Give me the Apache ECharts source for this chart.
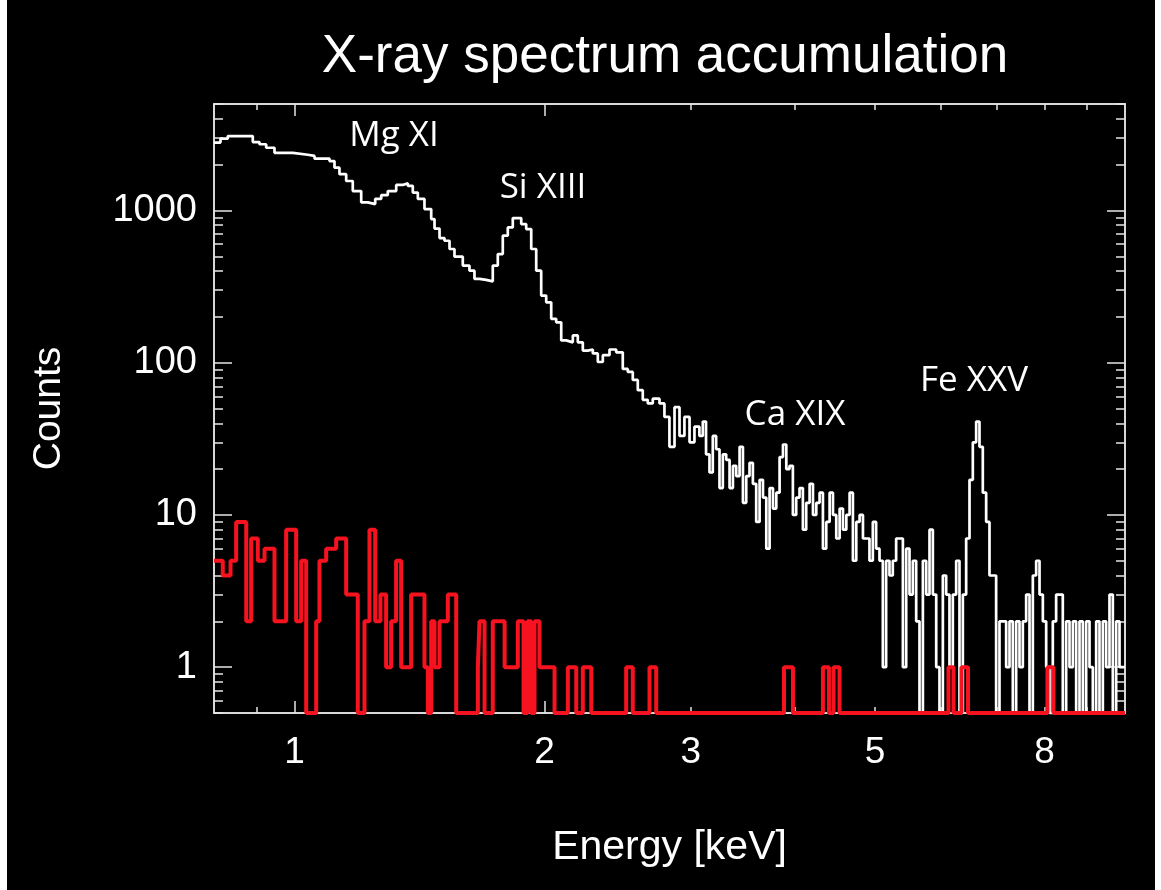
<!DOCTYPE html>
<html>
<head>
<meta charset="utf-8">
<title>X-ray spectrum accumulation</title>
<script src="https://cdn.jsdelivr.net/npm/echarts@6/dist/echarts.min.js"></script>
<style>
  html, body { margin: 0; padding: 0; background: #ffffff; }
  #chart { width: 1161px; height: 890px; }
</style>
</head>
<body>
<div id="chart"></div>
<script>
// white spectrum: energy (keV) where each step starts, last edge closes the last bin
var whiteEdges = [
  0.800, 0.8145, 0.8312, 0.8908, 0.9075, 0.9245, 0.9461, 0.9953, 1.0375, 1.0570,
  1.1019, 1.1173, 1.1328, 1.1541, 1.1754, 1.2032, 1.2254, 1.2508, 1.2718, 1.2952,
  1.3258, 1.3503, 1.3691, 1.3882, 1.4077, 1.4339, 1.4609, 1.4744, 1.4950, 1.5157,
  1.5370, 1.5583, 1.5946, 1.6244, 1.6471, 1.6701, 1.7013, 1.7329, 1.7571, 1.7816,
  1.8065, 1.8317, 1.8750, 1.9011, 1.9277, 1.9546, 1.9818, 2.0095, 2.0376, 2.0660,
  2.0949, 2.1241, 2.1634, 2.1935, 2.2242, 2.2552, 2.2867, 2.3186, 2.3510, 2.3950,
  2.4399, 2.4848, 2.5196, 2.5547, 2.5903, 2.6265, 2.6631, 2.7003,
  2.751, 2.789, 2.828, 2.868, 2.908, 2.948, 2.990, 3.031,
  3.073, 3.102, 3.130, 3.160, 3.189, 3.219, 3.249, 3.279, 3.310, 3.341,
  3.372, 3.403, 3.435, 3.467, 3.499, 3.531, 3.564, 3.597, 3.631, 3.665,
  3.699, 3.733, 3.768, 3.803, 3.838, 3.874, 3.910, 3.945, 3.982, 4.019,
  4.056, 4.094, 4.132, 4.171, 4.210, 4.249, 4.288, 4.328, 4.368, 4.409,
  4.450, 4.491, 4.533, 4.575, 4.618, 4.660, 4.703, 4.747, 4.791, 4.836,
  4.880, 4.924, 4.970, 5.016, 5.063, 5.110, 5.157, 5.205, 5.253, 5.302,
  5.352, 5.402, 5.452, 5.502, 5.553, 5.605, 5.657, 5.710, 5.763, 5.816,
  5.870, 5.925, 5.979, 6.035, 6.091, 6.147, 6.204, 6.262, 6.320, 6.379,
  6.438, 6.498, 6.558, 6.619, 6.680, 6.742, 6.805, 6.868, 6.932, 6.996,
  7.061, 7.127, 7.193, 7.260, 7.327, 7.395, 7.464, 7.533, 7.603, 7.674,
  7.745, 7.817, 7.890, 7.963, 8.037, 8.111, 8.186, 8.262, 8.339, 8.416,
  8.495, 8.574, 8.654, 8.734, 8.815, 8.897, 8.979, 9.063, 9.147, 9.232,
  9.317, 9.404, 9.491, 9.579, 9.668, 9.758, 9.849, 10.0
];
var whiteCounts = [
  2790, 2960, 3080, 2810, 2720, 2580, 2390, 2320, 2280, 2190,
  2110, 1910, 1730, 1560, 1340, 1130, 1100, 1190, 1260, 1340,
  1470, 1510, 1450, 1310, 1190, 1020, 877, 760, 658, 632,
  558, 497, 434, 402, 355, 350, 342, 434, 517, 682,
  773, 891, 813, 754, 558, 402, 276, 249, 194, 184,
  140, 136, 151, 136, 120, 122, 115, 101, 112, 122,
  117, 91, 87, 77, 66, 57, 54, 58,
  54, 44, 28, 51, 33, 44, 30, 38,
  33, 41, 25, 19, 33, 27, 15, 25, 23, 15,
  21, 18, 28, 12, 18, 22, 16, 9, 17, 13,
  6, 15, 11, 14, 24, 29, 20, 21, 10, 13,
  15, 8, 12, 16, 10, 12, 14, 6, 9, 14,
  10, 7, 11, 8, 10, 14, 5, 9, 10, 7,
  7, 5, 9, 6, 5, 1, 5, 4, 5, 7,
  7, 1, 6, 3, 5, 2, 0, 5, 3, 8,
  3, 1, 0, 4, 3, 1, 3, 5, 0, 3,
  7, 17, 30, 41, 28, 14, 9, 4, 4, 0,
  2, 2, 1, 2, 0, 2, 1, 2, 3, 0,
  4, 5, 3, 2, 1, 0, 2, 3, 3, 0,
  2, 1, 2, 0, 2, 0, 2, 1, 0, 2,
  0, 2, 1, 3, 0, 2, 1
];

// red spectrum
var redEdges = [
  0.800, 0.8197, 0.8375, 0.8507, 0.8748, 0.8868, 0.9033, 0.9203, 0.9461, 0.9772,
  1.0047, 1.0188, 1.0330, 1.0620, 1.0717, 1.0918, 1.1226, 1.1541, 1.1918, 1.2142,
  1.2311, 1.2508, 1.2691, 1.2893, 1.3073, 1.3255, 1.3441, 1.3819, 1.4339, 1.4473,
  1.4609, 1.4744, 1.4950, 1.5157, 1.5298, 1.5658, 1.6627, 1.6701, 1.6938, 1.7329,
  1.7907, 1.8574, 1.8872, 1.9078, 1.9277, 1.9454, 1.9724, 2.0566, 2.1338, 2.1841,
  2.2242, 2.2769, 2.5083, 2.5548, 2.6759, 2.7261, 3.885, 3.983, 4.328, 4.401,
  4.457, 4.532, 6.130, 6.216, 6.355, 6.471, 8.066, 8.201, 10.0
];
var redCounts = [
  5, 4, 5, 9, 2, 7, 5, 6, 2, 8,
  2, 5, 0, 2, 5, 6, 7, 3, 0, 2,
  8, 2, 3, 1, 2, 5, 1, 3, 1, 0,
  2, 1, 2, 2, 3, 0, 1, 2, 0, 2,
  1, 2, 0, 2, 0, 2, 1, 0, 1, 0,
  1, 0, 1, 0, 1, 0, 1, 0, 1, 0,
  1, 0, 1, 0, 1, 0, 1, 0
];

var xLabelValues = [1, 2, 3, 5, 8];
var xMajorTicks = [1, 2];
var xMinorTicks = [0.9, 3, 4, 5, 6, 7, 8, 9];
var yLabelValues = [1, 10, 100, 1000];
var yMinorTicks = [0.5, 0.6, 0.7, 0.8, 0.9, 2, 3, 4, 5, 6, 7, 8, 9,
  20, 30, 40, 50, 60, 70, 80, 90, 200, 300, 400, 500, 600, 700, 800, 900,
  2000, 3000, 4000, 5000];

var X_MIN = 0.8, X_MAX = 10, Y_MIN = 0.5, Y_MAX = 5000;
var axisColor = '#e6e6e6';
var font = 'Liberation Sans, Arial, Helvetica, sans-serif';

// histogram -> points for a step line; empty bins sit on the floor of the plot
function toSteps(edges, counts) {
  var pts = counts.map(function (c, i) {
    return [edges[i], c > 0 ? c : Y_MIN];
  });
  var last = counts[counts.length - 1];
  pts.push([edges[edges.length - 1], last > 0 ? last : Y_MIN]);
  return pts;
}

function fmt(v) {
  return String(Math.round(v * 1000) / 1000);
}

function xAxisDef(pos, ticks, len, withLabel) {
  var ax = {
    type: 'log', logBase: 10, min: X_MIN, max: X_MAX, position: pos,
    axisLine: { show: true, onZero: false, lineStyle: { color: axisColor, width: 1.5 } },
    axisTick: { show: true, inside: true, length: len, customValues: ticks,
      lineStyle: { color: axisColor, width: 1.5 } },
    axisLabel: { show: false },
    splitLine: { show: false }
  };
  if (withLabel) {
    ax.axisLabel = { show: true, customValues: xLabelValues, color: '#ffffff',
      fontFamily: font, fontSize: 37, margin: 21, formatter: fmt };
    ax.name = 'Energy [keV]';
    ax.nameLocation = 'middle';
    ax.nameGap = 114;
    ax.nameTextStyle = { color: '#ffffff', fontFamily: font, fontSize: 41 };
  }
  return ax;
}

function yAxisDef(pos, ticks, len, withLabel) {
  var ax = {
    type: 'log', logBase: 10, min: Y_MIN, max: Y_MAX, position: pos,
    axisLine: { show: true, onZero: false, lineStyle: { color: axisColor, width: 1.5 } },
    axisTick: { show: true, inside: true, length: len, customValues: ticks,
      lineStyle: { color: axisColor, width: 1.5 } },
    axisLabel: { show: false },
    splitLine: { show: false }
  };
  if (withLabel) {
    ax.axisLabel = { show: true, customValues: yLabelValues, color: '#ffffff',
      fontFamily: font, fontSize: 38, margin: 17, formatter: fmt };
    ax.name = 'Counts';
    ax.nameLocation = 'middle';
    ax.nameGap = 145;
    ax.nameTextStyle = { color: '#ffffff', fontFamily: font, fontSize: 39 };
  }
  return ax;
}

var lineFont = '35px "Open Sans", "Noto Sans", sans-serif';
function lineLabel(text, x, y) {
  return {
    type: 'text', x: x, y: y, z: 10,
    style: { text: text, fill: '#ffffff', font: lineFont,
      textAlign: 'center', textVerticalAlign: 'middle' }
  };
}

var chart = echarts.init(document.getElementById('chart'), null, { renderer: 'canvas' });
var option = {
  animation: false,
  backgroundColor: '#000000',
  textStyle: { fontFamily: font },
  title: {
    text: 'X-ray spectrum accumulation',
    left: 665, top: 31, padding: 0, textAlign: 'center',
    textStyle: { color: '#ffffff', fontFamily: font, fontSize: 53, fontWeight: 'normal' }
  },
  grid: { left: 214, top: 104, width: 911, height: 609, containLabel: false },
  xAxis: [
    xAxisDef('bottom', xMajorTicks, 12, true),
    xAxisDef('bottom', xMinorTicks, 6, false),
    xAxisDef('top', xMajorTicks, 12, false),
    xAxisDef('top', xMinorTicks, 6, false)
  ],
  yAxis: [
    yAxisDef('left', yLabelValues, 18, true),
    yAxisDef('left', yMinorTicks, 9, false),
    yAxisDef('right', yLabelValues, 18, false),
    yAxisDef('right', yMinorTicks, 9, false)
  ],
  graphic: [
    { type: 'rect', shape: { x: 0, y: 0, width: 7, height: 890 }, style: { fill: '#ffffff' }, z: 100 },
    { type: 'rect', shape: { x: 1155, y: 0, width: 6, height: 890 }, style: { fill: '#ffffff' }, z: 100 },
    lineLabel('Mg XI', 394, 136),
    lineLabel('Si XIII', 543, 188),
    lineLabel('Ca XIX', 795, 415),
    lineLabel('Fe XXV', 974, 381)
  ],
  series: [
    {
      name: 'white', type: 'line', xAxisIndex: 0, yAxisIndex: 0,
      data: toSteps(whiteEdges, whiteCounts),
      step: 'end', showSymbol: false, symbol: 'none', clip: false, z: 2,
      lineStyle: { color: '#ffffff', width: 2.7 }
    },
    {
      name: 'red', type: 'line', xAxisIndex: 0, yAxisIndex: 0,
      data: toSteps(redEdges, redCounts),
      step: 'end', showSymbol: false, symbol: 'none', clip: false, z: 3,
      lineStyle: { color: '#f7121f', width: 4 }
    }
  ]
};
chart.setOption(option);
</script>
</body>
</html>
